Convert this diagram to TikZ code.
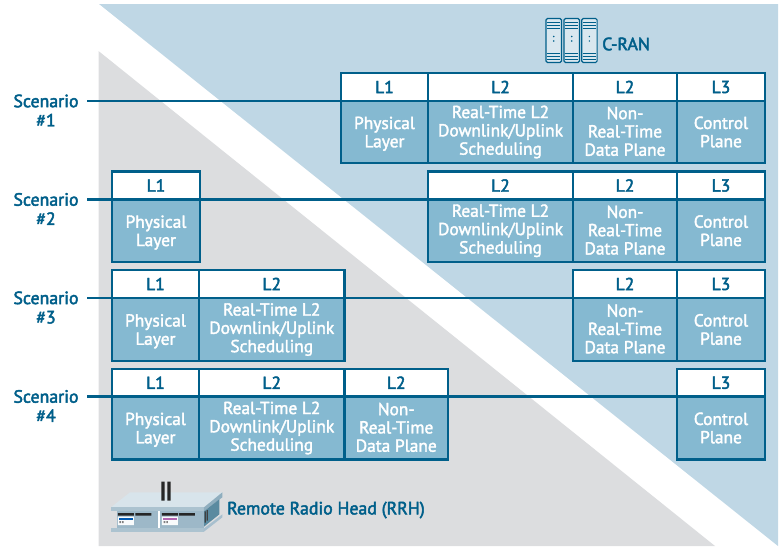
\documentclass[tikz,border=0pt]{standalone}
\usepackage{fontspec}
\setmainfont{PT Sans}
\newfontfamily\medfont[FakeBold=2.6]{PT Sans}
\newfontfamily\bodyfont[FakeBold=2]{PT Sans}
\definecolor{ink}{HTML}{005F8A}
\definecolor{bodyblue}{HTML}{85B9D1}
\definecolor{paleblue}{HTML}{BFD7E5}
\definecolor{palegray}{HTML}{DCDDDF}
\definecolor{plate}{HTML}{D8E4EB}
\definecolor{front}{HTML}{9DB8C8}
\definecolor{sidea}{HTML}{8FAEBF}
\definecolor{sideb}{HTML}{5A8AA0}
\tikzset{
  x=1pt,y=-1pt,
  cellbase/.style={draw=ink,line width=2.3pt,inner sep=0pt,outer sep=0pt,align=center,anchor=north west},
  hdr/.style={cellbase,fill=white,text=ink,font=\fontsize{17.5}{18.3}\medfont},
  bodycell/.style={cellbase,fill=bodyblue,text=white,font=\fontsize{17.4}{18.3}\bodyfont},
  rule/.style={draw=ink,line width=2.3pt},
  scen/.style={text=ink,font=\fontsize{17.8}{19.3}\medfont,align=center,inner sep=0pt},
  tag/.style={text=ink,font=\fontsize{17.8}{18}\medfont,inner sep=0pt,anchor=west},
}
% name, x1, x2, ytop, ymid, ybot, header, body
\newcommand{\cellpair}[8]{%
  \pgfmathsetmacro{\cw}{#3-#2}%
  \pgfmathsetmacro{\ch}{#5-#4}%
  \pgfmathsetmacro{\cb}{#6-#5}%
  \node[bodycell,minimum width=\cw pt,minimum height=\cb pt] (b#1) at (#2,#5) {#8};
  \node[hdr,minimum width=\cw pt,minimum height=\ch pt] (h#1) at (#2,#4) {#7};
}
\newcommand{\PL}{Physical\\\raisebox{0pt}[\height][0pt]{Layer}}
\newcommand{\RT}{Real-Time L2\\Downlink/Uplink\\Scheduling}
\newcommand{\NR}{Non-\\Real-Time\\\raisebox{0pt}[\height][1.5pt]{Data Plane}}
\newcommand{\CP}{Control\\Plane}
\begin{document}
\begin{tikzpicture}
\useasboundingbox (0,0) rectangle (783,546);
\fill[paleblue] (99,4) -- (778,4) -- (778,546) -- cycle;
\fill[palegray] (98.5,51) -- (715,546) -- (98.5,546) -- cycle;

% Scenario labels
\node[scen] (s1) at (46,110.5) {Scenario\\\#1};
\node[scen] (s2) at (46,209) {Scenario\\\#2};
\node[scen] (s3) at (46,307.5) {Scenario\\\#3};
\node[scen] (s4) at (46,406) {Scenario\\\#4};
\coordinate (l1) at (87,101);
\coordinate (l2) at (87,199.5);
\coordinate (l3) at (87,298);
\coordinate (l4) at (87,396.5);

% Scenario 1
\cellpair{1a}{341}{428}{73}{101}{163}{L1}{\PL}
\cellpair{1b}{428}{573}{73}{101}{163}{L2}{\RT}
\cellpair{1c}{573}{677}{73}{101}{163}{L2}{\NR}
\cellpair{1d}{677}{765}{73}{101}{163}{L3}{\CP}
% Scenario 2
\cellpair{2a}{112}{200}{171.5}{199.5}{262}{L1}{\PL}
\cellpair{2b}{428}{573}{171.5}{199.5}{262}{L2}{\RT}
\cellpair{2c}{573}{677}{171.5}{199.5}{262}{L2}{\NR}
\cellpair{2d}{677}{765}{171.5}{199.5}{262}{L3}{\CP}
% Scenario 3
\cellpair{3a}{112}{199}{270}{298}{361}{L1}{\PL}
\cellpair{3b}{199}{344.5}{270}{298}{361}{L2}{\RT}
\cellpair{3c}{573}{677}{270}{298}{361}{L2}{\NR}
\cellpair{3d}{677}{765}{270}{298}{361}{L3}{\CP}
% Scenario 4
\cellpair{4a}{112}{199}{369}{396.5}{459.5}{L1}{\PL}
\cellpair{4b}{199}{344.5}{369}{396.5}{459.5}{L2}{\RT}
\cellpair{4c}{344.5}{448}{369}{396.5}{459.5}{L2}{\NR}
\cellpair{4d}{677}{765}{369}{396.5}{459.5}{L3}{\CP}

% Connectors
\draw[rule] (l1) -- (b1a.north west);
\draw[rule] (l2) -- (b2a.north west);
\draw[rule] (b2a.north east) -- (b2b.north west);
\draw[rule] (l3) -- (b3a.north west);
\draw[rule] (b3b.north east) -- (b3c.north west);
\draw[rule] (l4) -- (b4a.north west);
\draw[rule] (b4c.north east) -- (b4d.north west);

% C-RAN icon
\foreach \xa in {546,564,581.7}{
  \draw[ink,line width=1.2pt,fill=paleblue!60!white,rounded corners=1.5pt] (\xa,18.5) rectangle ++(15.4,44);
  \foreach \yy in {22.5,25.5,28.5,53,56,59}
    \draw[ink,line width=1pt] (\xa+1,\yy) -- ++(13.4,0);
  \fill[ink] (\xa+7.7,36.5) circle (0.8) (\xa+7.7,41) circle (0.8);
}
\node[tag] (cran) at (602,44) {C-RAN};

% RRH icon
\begin{scope}[shift={(90,460)},x=0.3333pt,y=-0.3333pt]
  \fill[plate] (63,142) -- (120,97) -- (397,97) -- (342,142) -- cycle;
  \fill[black!85] (214,65) rectangle (224,122) (232,65) rectangle (242,122);
  \fill[front!85!white] (63,142) rectangle (342,154);
  \fill[sidea] (342,142) -- (397,97) -- (397,112) -- (342,154) -- cycle;
  \fill[sideb] (342,154) -- (388,118) -- (388,163) -- (342,200) -- cycle;
  \fill[black!75] (338,158) rectangle (342,192) (344,154) rectangle (348,188) (350,150) rectangle (354,182);
  \fill[front] (80,154) rectangle (342,205);
  \fill[white] (205,154) rectangle (210,205);
  \fill[front!85!white] (63,205) rectangle (342,215);
  \fill[front!90!white] (342,205) -- (397,163) -- (397,172) -- (342,215) -- cycle;
  \fill[black!85] (84,159) rectangle (132,167) (136,159) rectangle (184,167) (216,159) rectangle (264,167) (267,159) rectangle (315,167);
  \fill[white!90!paleblue] (84,170) rectangle (132,195) (216,170) rectangle (264,195);
  \fill[blue!50!cyan!70!black] (88,174) rectangle (130,180);
  \fill[violet!60!white] (218,174) rectangle (262,180);
  \fill[gray] (88,183) rectangle (93,189) (96,183) rectangle (101,189) (221,183) rectangle (226,189) (229,183) rectangle (234,189);
\end{scope}
\node[tag] (rrh) at (227,510) {Remote Radio Head (RRH)};
\end{tikzpicture}
\end{document}
